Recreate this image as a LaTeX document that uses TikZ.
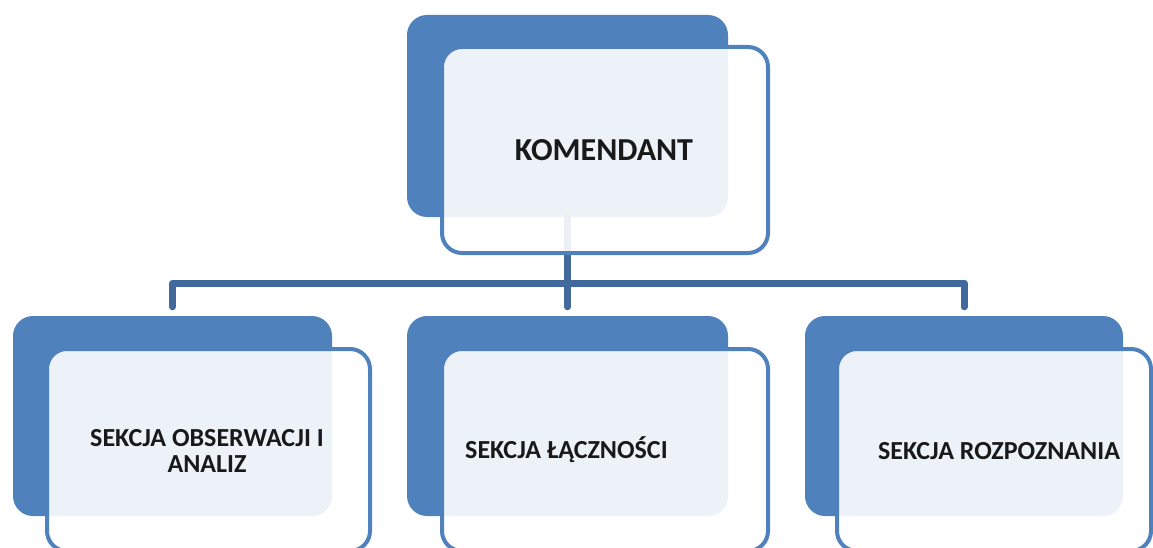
\documentclass[tikz,border=0pt]{standalone}
\usepackage{fontspec}
\setmainfont{Carlito}
\definecolor{boxblue}{RGB}{79,129,189}
\definecolor{connblue}{RGB}{65,105,155}
\definecolor{txt}{RGB}{25,25,25}
\tikzset{
  backbox/.style={draw=none, fill=boxblue, rounded corners=20pt, inner sep=0pt},
  frontbox/.style={draw=boxblue, line width=4pt, fill=white, fill opacity=0.9,
    text opacity=1, rounded corners=20pt, inner sep=0pt},
  conn/.style={draw=connblue, line width=7pt, line join=round, line cap=round},
  bigtxt/.style={font=\bfseries\fontsize{32}{38}\selectfont, text=txt, inner sep=0pt},
  smalltxt/.style={font=\bfseries\fontsize{26}{26.5}\selectfont, text=txt, inner sep=0pt, align=center},
}
\begin{document}
\begin{tikzpicture}[x=1pt,y=-1pt]
\useasboundingbox (0,0) rectangle (1153,548);
% back boxes
\node[backbox, minimum width=321pt, minimum height=202pt] (topback) at (567.5,116) {};
\node[backbox, minimum width=319pt, minimum height=200pt] (b1back) at (172.5,416) {};
\node[backbox, minimum width=321pt, minimum height=200pt] (b2back) at (567.5,416) {};
\node[backbox, minimum width=318pt, minimum height=200pt] (b3back) at (964,416) {};
% connectors
\coordinate (bar) at (568,283);
\draw[conn] (topback.south) -- (topback.south |- bar);
\draw[conn, shorten >=9pt] (topback.south |- bar) -| (b1back.north);
\draw[conn, shorten >=9pt] (topback.south |- bar) -| (b3back.north);
\draw[conn, shorten >=9pt] (topback.south |- bar) -- (b2back.north);
% front boxes
\node[frontbox, minimum width=326pt, minimum height=206pt] (topfront) at (605,150) {};
\node[frontbox, minimum width=323pt, minimum height=202pt] (b1front) at (208.5,450) {};
\node[frontbox, minimum width=326pt, minimum height=202pt] (b2front) at (605,450) {};
\node[frontbox, minimum width=314pt, minimum height=202pt] (b3front) at (994,450) {};
% texts
\node[bigtxt] (t0) at (604,150) {KOMENDANT};
\node[smalltxt] (t1) at (207,451) {SEKCJA OBSERWACJI I\\ANALIZ};
\node[smalltxt, anchor=west] (t2) at (465,450) {SEKCJA ŁĄCZNOŚCI};
\node[smalltxt] (t3) at (999,451) {SEKCJA ROZPOZNANIA};
\end{tikzpicture}
\end{document}
